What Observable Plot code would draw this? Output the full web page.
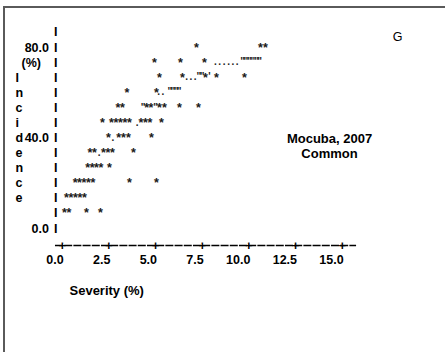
<!DOCTYPE html>
<html><head><meta charset="utf-8">
<script src="https://cdn.jsdelivr.net/npm/d3@7"></script>
<script src="https://cdn.jsdelivr.net/npm/@observablehq/plot@0.6"></script>
<style>
body{margin:0;background:#fff;}
#wrap{position:relative;width:445px;height:352px;overflow:hidden;background:#fff;}
#chart{position:absolute;left:0;top:0;}
#border{position:absolute;left:3px;top:6px;width:470px;height:370px;border-left:2px solid #5a5a5a;border-top:2px solid #5a5a5a;}
</style></head><body>
<div id="wrap"><div id="chart"></div><div id="border"></div></div>
<script>
// Scatter points (Severity %, Incidence %)
const severity = [
  7.19, 10.62, 10.89,
  4.94, 6.34, 7.62,
  5.21, 6.44, 7.68, 8.26, 9.76,
  3.47, 5.05,
  2.99, 3.23, 4.52, 4.76, 5.21, 5.48, 6.28, 7.30,
  2.16, 2.64, 2.88, 3.12, 3.36, 3.60, 4.22, 4.46, 4.70, 5.32,
  2.48, 3.02, 3.28, 3.55, 4.78,
  1.49, 1.73, 2.21, 2.45, 2.69, 3.82,
  1.36, 1.60, 1.84, 2.08, 2.53,
  0.69, 0.93, 1.17, 1.41, 1.65, 3.60, 5.05,
  0.23, 0.47, 0.71, 0.95, 1.19,
  0.12, 0.36, 1.30, 2.05
];
const incidence = [
  80, 80, 80,
  73.33, 73.33, 73.33,
  66.67, 66.67, 66.67, 66.67, 66.67,
  60, 60,
  53.33, 53.33, 53.33, 53.33, 53.33, 53.33, 53.33, 53.33,
  46.67, 46.67, 46.67, 46.67, 46.67, 46.67, 46.67, 46.67, 46.67, 46.67,
  40, 40, 40, 40, 40,
  33.33, 33.33, 33.33, 33.33, 33.33, 33.33,
  26.67, 26.67, 26.67, 26.67, 26.67,
  20, 20, 20, 20, 20, 20, 20,
  13.33, 13.33, 13.33, 13.33, 13.33,
  6.67, 6.67, 6.67, 6.67
];
// Fitted-curve print characters
const fitSeverity = [1.98, 2.72, 4.02, 4.34, 5.00, 5.16, 5.40, 5.77, 5.93, 6.10, 6.26,
  6.66, 6.89, 7.12, 7.32, 7.50, 7.89,
  8.21, 8.44, 8.68, 8.91, 9.14, 9.37, 9.66, 9.84, 10.03, 10.22, 10.41, 10.57];
const fitIncidence = [33.33, 40, 46.67, 53.33, 53.33, 60, 60, 60, 60, 60, 60,
  66.67, 66.67, 66.67, 66.67, 66.67, 66.67,
  73.33, 73.33, 73.33, 73.33, 73.33, 73.33, 73.33, 73.33, 73.33, 73.33, 73.33, 73.33];
const fitGlyph = [".", ".", ".", "\"", "\"", ".", ".", "\"", "\"", "\"", "\"",
  ".", ".", ".", "\"", "\"", "'",
  ".", ".", ".", ".", ".", ".", "\"", "\"", "\"", "\"", "\"", "\""];

const printRows = [0, 6.67, 13.33, 20, 26.67, 33.33, 40, 46.67, 53.33, 60, 66.67, 73.33, 80, 86.67];
const yTicks = [0, 40, 80];
const yTitleLetters = ["I", "n", "c", "i", "d", "e", "n", "c", "e"];
const yTitleRows = [66.67, 60, 53.33, 46.67, 40, 33.33, 26.67, 20, 13.33];
const xTicks = [0, 2.5, 5, 7.5, 10, 12.5, 15];

const axisRow = -7.5, tickLabelRow = -13.8;
const axisStart = -0.36, axisEnd = 15.77;

const points = severity.map((s, i) => ({s, inc: incidence[i]}));
const fit = fitSeverity.map((s, i) => ({s, inc: fitIncidence[i], g: fitGlyph[i]}));
const letters = yTitleLetters.map((t, i) => ({t, r: yTitleRows[i]}));

const F = "'Liberation Sans', Arial, sans-serif";
const chart = Plot.plot({
  width: 445, height: 352, margin: 0,
  x: {domain: [0, 15], range: [61.7, 341.7], axis: null},
  y: {domain: [0, 80], range: [228, 47], axis: null},
  style: {fontFamily: F, background: "transparent", color: "#000"},
  marks: [
    // y axis print column
    Plot.text(printRows, {y: d => d, frameAnchor: "left", dx: 55.3, textAnchor: "middle", lineAnchor: "middle", text: () => "I", fontSize: 12.5, fontWeight: "bold"}),
    Plot.text(yTicks, {y: d => d, frameAnchor: "left", dx: 48.5, textAnchor: "end", lineAnchor: "middle", text: d => d.toFixed(1), fontSize: 12.5, fontWeight: "bold"}),
    Plot.text(["(%)"], {y: () => 73.33, frameAnchor: "left", dx: 21, textAnchor: "start", lineAnchor: "middle", fontSize: 12.5, fontWeight: "bold"}),
    Plot.text(letters, {y: "r", text: "t", frameAnchor: "left", dx: 15, textAnchor: "start", lineAnchor: "middle", fontSize: 12.5, fontWeight: "bold"}),
    // x axis print line
    Plot.ruleY([axisRow], {x1: axisStart, x2: axisEnd, stroke: "#000", strokeWidth: 1.6, strokeDasharray: "8,1.2"}),
    Plot.text(xTicks, {x: d => d, y: () => axisRow, text: () => "+", textAnchor: "middle", lineAnchor: "middle", fontSize: 13, fontWeight: "bold"}),
    Plot.text(xTicks, {x: d => d, y: () => tickLabelRow, text: d => d.toFixed(1), textAnchor: "end", dx: 1.5, lineAnchor: "middle", fontSize: 12.5, fontWeight: "bold"}),
    Plot.text(["Severity (%)"], {frameAnchor: "top-left", dx: 69, dy: 290, textAnchor: "start", lineAnchor: "middle", fontSize: 13, fontWeight: "bold"}),
    // data
    Plot.text(fit, {x: "s", y: "inc", text: "g", textAnchor: "middle", lineAnchor: "middle", fontSize: 10, fontWeight: "bold", fill: "#222", dy: -0.5}),
    Plot.text(points, {x: "s", y: "inc", text: () => "*", textAnchor: "middle", lineAnchor: "middle", fontSize: 12.5, fill: "#1a1a1a", fontWeight: "bold"}),
    // annotations
    Plot.text(["Mocuba, 2007\nCommon"], {frameAnchor: "top-left", dx: 329, dy: 145.5, textAnchor: "middle", lineAnchor: "middle", lineHeight: 1.154, fontSize: 13, fontWeight: "bold"}),
    Plot.text(["G"], {frameAnchor: "top-left", dx: 397, dy: 36, textAnchor: "middle", lineAnchor: "middle", fontSize: 12.5})
  ]
});
document.getElementById("chart").appendChild(chart);
</script>
</body></html>
